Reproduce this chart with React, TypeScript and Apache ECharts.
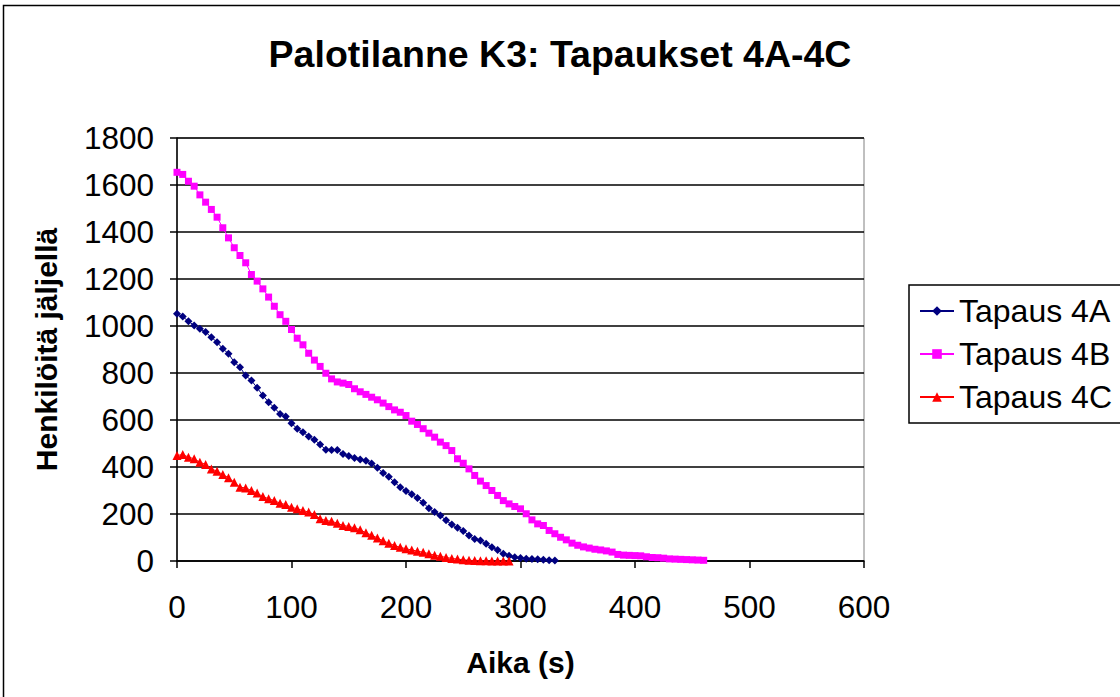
import React, { useEffect, useRef } from "react";
import * as echarts from "echarts";

const titleText = "Palotilanne K3: Tapaukset 4A-4C";
const xAxisName = "Aika (s)";
const yAxisName = "Henkilöitä jäljellä";
const seriesNames = ["Tapaus 4A", "Tapaus 4B", "Tapaus 4C"];
const seriesColors = ["#000080", "#FF00FF", "#FF0000"];
const seriesSymbols = ["diamond", "rect", "triangle"];
const xTicks = [0, 100, 200, 300, 400, 500, 600];
const yTicks = [0, 200, 400, 600, 800, 1000, 1200, 1400, 1600, 1800];

const tapaus4A: [number, number][] = [
  [0, 1052], [5, 1040], [10, 1020], [15, 1002], [20, 988], [25, 974], [30, 952], [35, 931], [40, 903], [45, 882],
  [50, 846], [55, 825], [60, 789], [65, 768], [70, 737], [75, 704], [80, 676], [85, 652], [90, 626], [95, 615],
  [100, 586], [105, 563], [110, 548], [115, 530], [120, 516], [125, 496], [130, 473], [135, 472], [140, 472], [145, 455],
  [150, 447], [155, 438], [160, 432], [165, 427], [170, 415], [175, 397], [180, 374], [185, 358], [190, 335], [195, 314],
  [200, 298], [205, 284], [210, 268], [215, 248], [220, 224], [225, 208], [230, 194], [235, 173], [240, 155], [245, 141],
  [250, 128], [255, 109], [260, 94], [265, 87], [270, 73], [275, 59], [280, 47], [285, 31], [290, 22], [295, 16],
  [300, 13], [305, 10], [310, 9], [315, 7], [320, 5], [325, 3], [330, 2],
];

const tapaus4B: [number, number][] = [
  [0, 1654], [5, 1645], [10, 1616], [15, 1595], [20, 1558], [25, 1527], [30, 1496], [35, 1463], [40, 1418], [45, 1375],
  [50, 1333], [55, 1300], [60, 1269], [65, 1219], [70, 1191], [75, 1158], [80, 1123], [85, 1084], [90, 1048], [95, 1020],
  [100, 985], [105, 948], [110, 920], [115, 884], [120, 855], [125, 828], [130, 799], [135, 775], [140, 762], [145, 757],
  [150, 751], [155, 733], [160, 720], [165, 709], [170, 697], [175, 686], [180, 672], [185, 657], [190, 643], [195, 633],
  [200, 619], [205, 595], [210, 581], [215, 563], [220, 544], [225, 527], [230, 506], [235, 491], [240, 470], [245, 435],
  [250, 416], [255, 392], [260, 364], [265, 340], [270, 321], [275, 300], [280, 279], [285, 257], [290, 243], [295, 232],
  [300, 222], [305, 201], [310, 175], [315, 158], [320, 151], [325, 130], [330, 116], [335, 101], [340, 90], [345, 76],
  [350, 67], [355, 60], [360, 55], [365, 50], [370, 47], [375, 43], [380, 38], [385, 28], [390, 25], [395, 24],
  [400, 23], [405, 22], [410, 18], [415, 15], [420, 14], [425, 12], [430, 9], [435, 8], [440, 7], [445, 6],
  [450, 5], [455, 4], [460, 3],
];

const tapaus4C: [number, number][] = [
  [0, 449], [5, 453], [10, 442], [15, 435], [20, 420], [25, 411], [30, 392], [35, 382], [40, 368], [45, 354],
  [50, 335], [55, 314], [60, 311], [65, 300], [70, 289], [75, 274], [80, 265], [85, 257], [90, 246], [95, 240],
  [100, 229], [105, 222], [110, 215], [115, 208], [120, 198], [125, 180], [130, 172], [135, 169], [140, 161], [145, 151],
  [150, 147], [155, 141], [160, 133], [165, 120], [170, 110], [175, 98], [180, 86], [185, 76], [190, 66], [195, 58],
  [200, 52], [205, 47], [210, 42], [215, 37], [220, 31], [225, 25], [230, 20], [235, 15], [240, 11], [245, 8],
  [250, 5], [255, 3], [260, 2], [265, 1], [270, 1], [275, 0], [280, 0], [285, 0], [290, 0],
];

const seriesData = [tapaus4A, tapaus4B, tapaus4C];
const symbolSizes = [8, 7, 9];

export default function App() {
  const ref = useRef<HTMLDivElement>(null);
  useEffect(() => {
    document.body.style.margin = "0";
    if (!ref.current) return;
    const chart = echarts.init(ref.current, null, { renderer: "svg" });
    const font = "Arial, 'Liberation Sans', sans-serif";
    chart.setOption({
      animation: false,
      backgroundColor: "#ffffff",
      textStyle: { fontFamily: font },
      title: {
        text: titleText,
        left: "center",
        top: 30,
        textStyle: { fontFamily: font, fontSize: 37.5, fontWeight: "bold", color: "#000" },
      },
      graphic: [
        {
          type: "rect",
          shape: { x: 3.5, y: 5.5, width: 1300, height: 900 },
          style: { fill: "none", stroke: "#000", lineWidth: 1.5 },
          silent: true,
        },
      ],
      grid: {
        left: 177,
        top: 138,
        width: 687,
        height: 423,
        containLabel: false,
        show: true,
        borderColor: "#808080",
        borderWidth: 1,
      },
      legend: {
        orient: "vertical",
        left: 909,
        top: 285,
        padding: [10, 40, 10, 10],
        borderColor: "#000",
        borderWidth: 1.5,
        itemWidth: 34,
        itemHeight: 12,
        itemGap: 11,
        data: seriesNames,
        textStyle: { fontFamily: font, fontSize: 32, color: "#000", lineHeight: 31 },
      },
      xAxis: {
        type: "value",
        min: xTicks[0],
        max: xTicks[xTicks.length - 1],
        interval: 100,
        name: xAxisName,
        nameLocation: "middle",
        nameGap: 86,
        nameTextStyle: { fontFamily: font, fontSize: 30, fontWeight: "bold", color: "#000" },
        axisLine: { show: true, onZero: false, lineStyle: { color: "#000", width: 1.5 } },
        axisTick: { show: true, length: 7, inside: false, lineStyle: { color: "#000", width: 1.5 } },
        axisLabel: { fontFamily: font, fontSize: 31.5, color: "#000", margin: 30, formatter: (v: number) => String(v) },
        splitLine: { show: false },
      },
      yAxis: {
        type: "value",
        min: yTicks[0],
        max: yTicks[yTicks.length - 1],
        interval: 200,
        name: yAxisName,
        nameLocation: "middle",
        nameGap: 116,
        nameRotate: 90,
        nameTextStyle: { fontFamily: font, fontSize: 30, fontWeight: "bold", color: "#000" },
        axisLine: { show: true, lineStyle: { color: "#000", width: 1.5 } },
        axisTick: { show: true, length: 7, inside: false, lineStyle: { color: "#000", width: 1.5 } },
        axisLabel: { fontFamily: font, fontSize: 31.5, color: "#000", margin: 23, formatter: (v: number) => String(v) },
        splitLine: { show: true, lineStyle: { color: "#000", width: 1.5 } },
      },
      series: seriesNames.map((name, i) => ({
        name,
        type: "line",
        data: seriesData[i],
        symbol: seriesSymbols[i],
        symbolSize: symbolSizes[i],
        showAllSymbol: true,
        color: seriesColors[i],
        lineStyle: { color: seriesColors[i], width: 1 },
        itemStyle: { color: seriesColors[i] },
      })),
    });
    return () => chart.dispose();
  }, []);
  return <div ref={ref} style={{ width: 1120, height: 697 }} />;
}
